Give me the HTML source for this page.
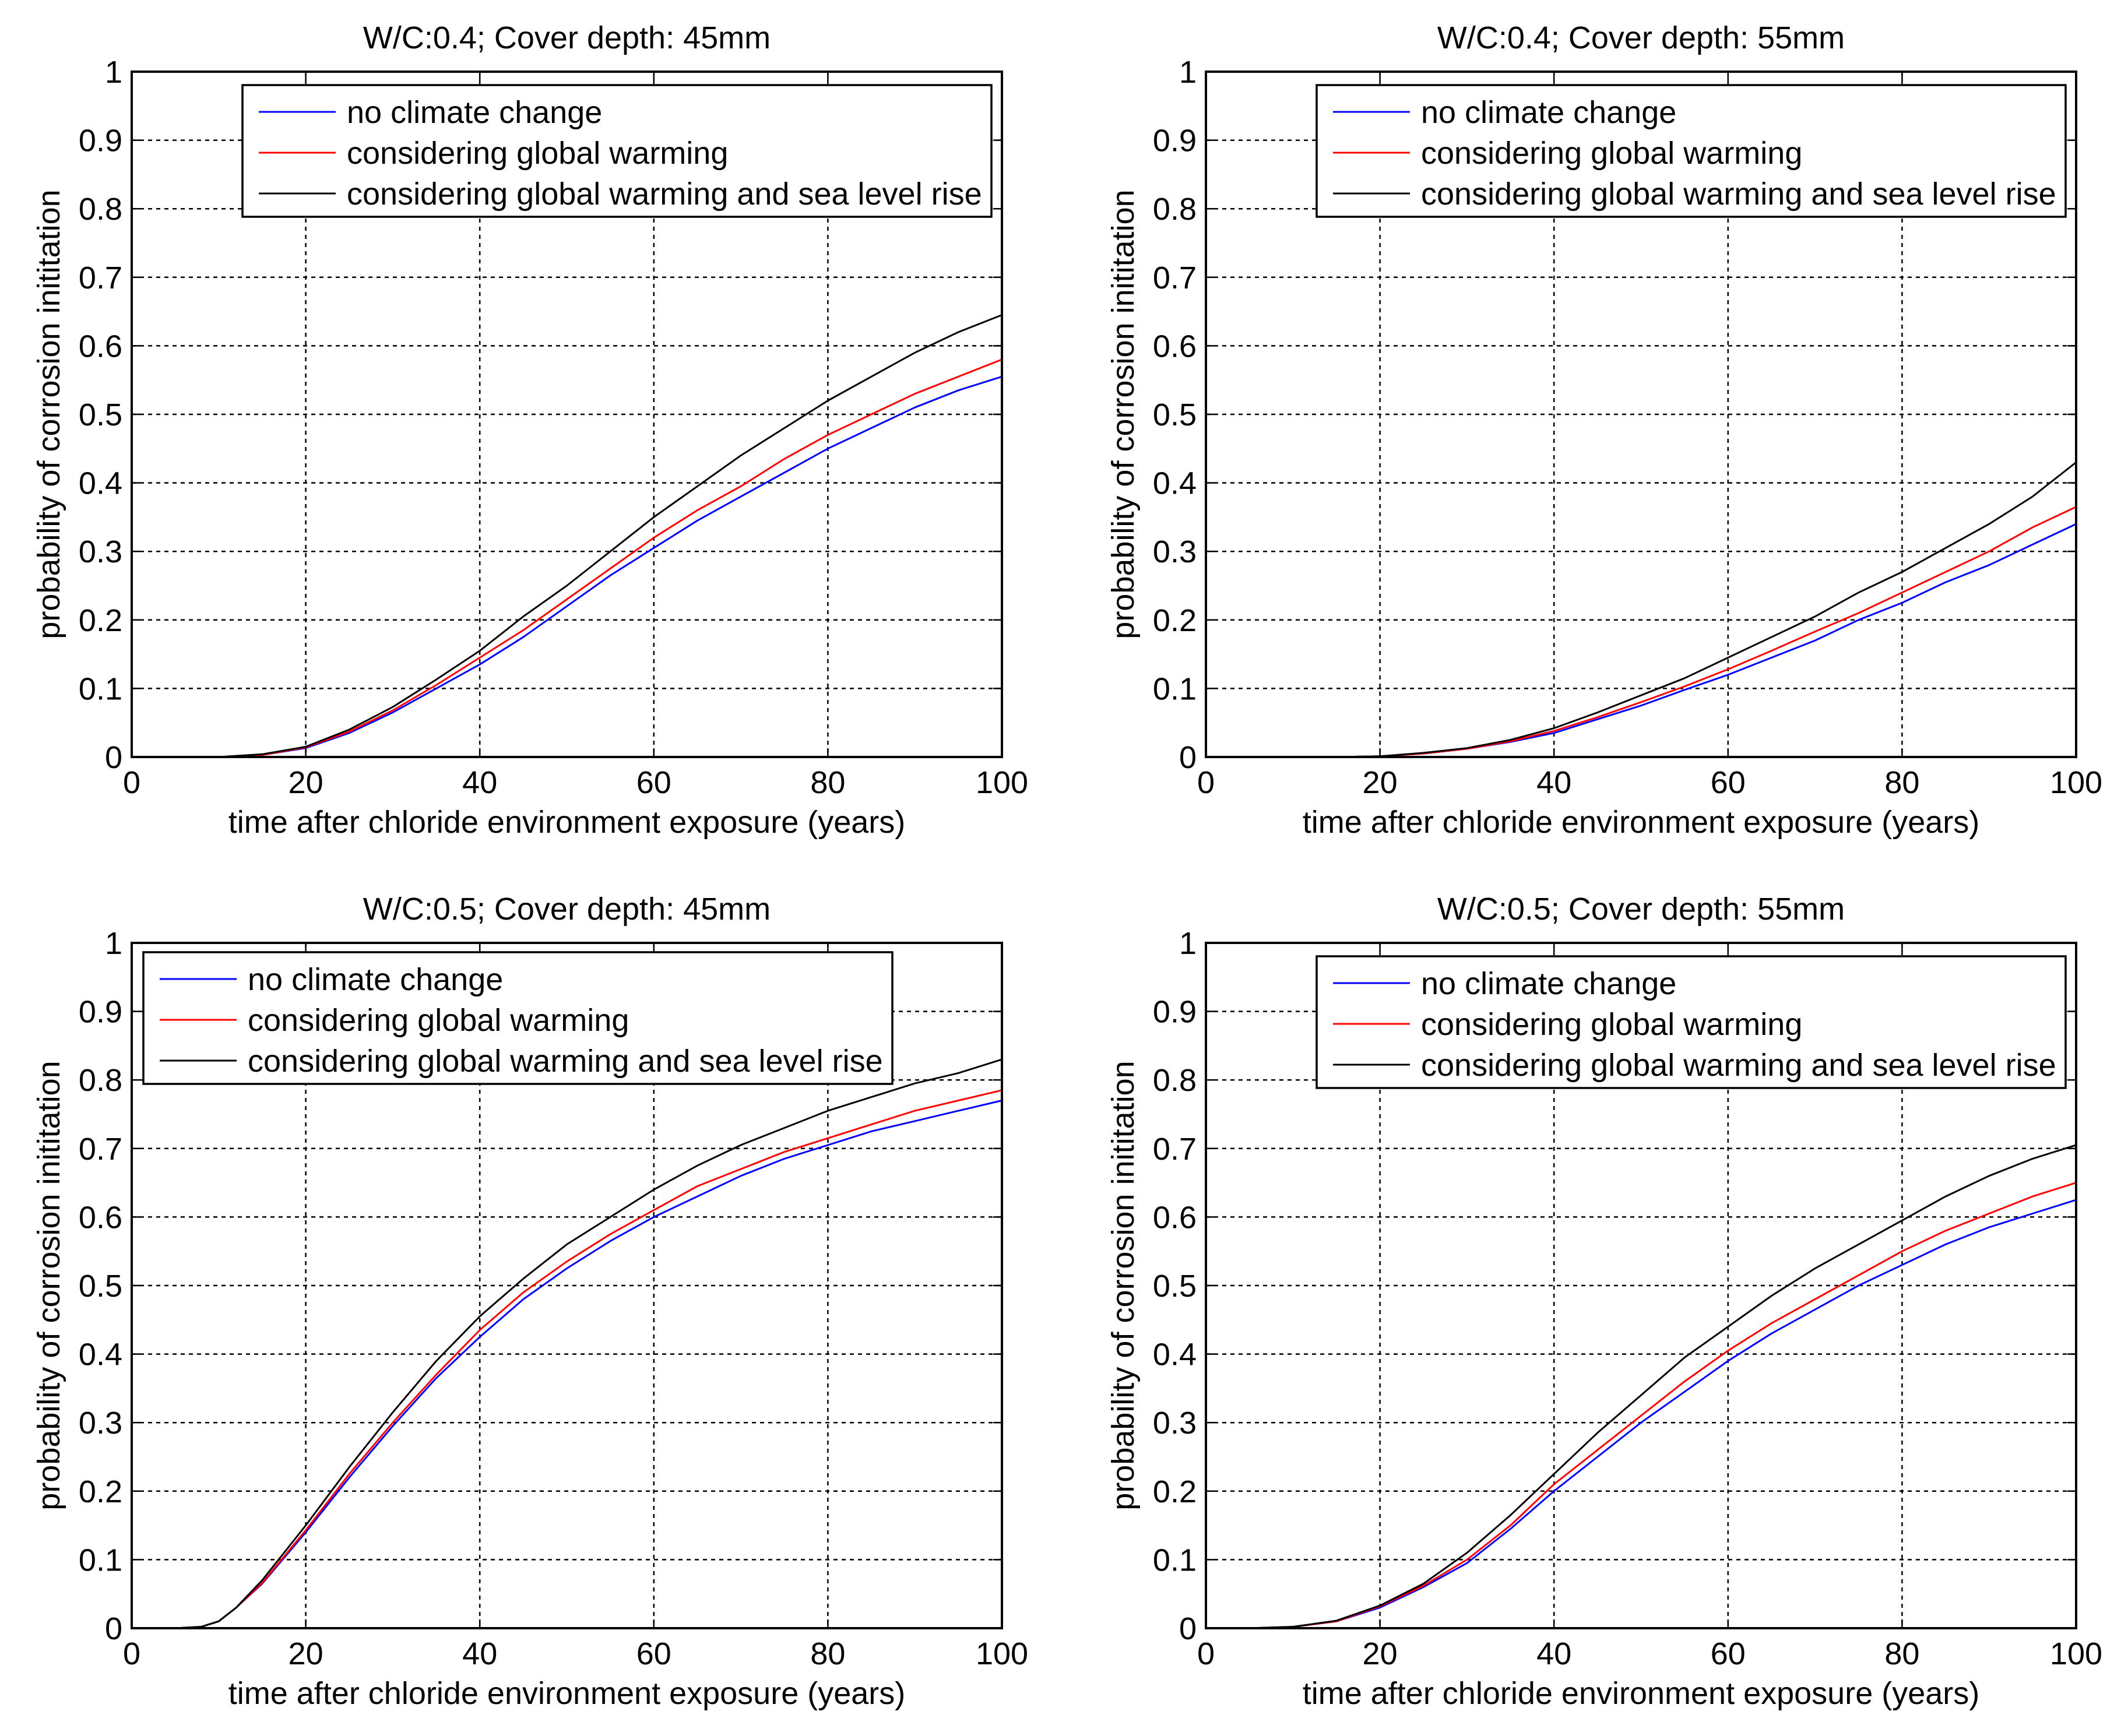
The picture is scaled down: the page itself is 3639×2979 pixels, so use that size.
<!DOCTYPE html>
<html><head><meta charset="utf-8"><style>
html,body{margin:0;padding:0;background:#fff;}
svg{display:block;font-family:"Liberation Sans",sans-serif;}
</style></head><body>
<svg id="chart" width="3639" height="2979" viewBox="0 0 3639 2979" xmlns="http://www.w3.org/2000/svg"></svg>
<script>
const xTicks = [0, 20, 40, 60, 80, 100];
const yTicks = [0, 0.1, 0.2, 0.3, 0.4, 0.5, 0.6, 0.7, 0.8, 0.9, 1];
const yTickLabels = ["0", "0.1", "0.2", "0.3", "0.4", "0.5", "0.6", "0.7", "0.8", "0.9", "1"];
const seriesNames = ["no climate change", "considering global warming", "considering global warming and sea level rise"];
const seriesColors = ["#0000ff", "#ff0000", "#000000"];
const panelTitles = ["W/C:0.4; Cover depth: 45mm", "W/C:0.4; Cover depth: 55mm", "W/C:0.5; Cover depth: 45mm", "W/C:0.5; Cover depth: 55mm"];

const yearsA = [7, 10, 15, 20, 25, 30, 35, 40, 45, 50, 55, 60, 65, 70, 75, 80, 85, 90, 95, 100];
const a_blue  = [0, 0, 0.003, 0.013, 0.035, 0.065, 0.10, 0.135, 0.175, 0.22, 0.265, 0.305, 0.345, 0.38, 0.415, 0.45, 0.48, 0.51, 0.535, 0.555];
const a_red   = [0, 0, 0.003, 0.014, 0.037, 0.068, 0.105, 0.145, 0.185, 0.23, 0.275, 0.32, 0.36, 0.395, 0.435, 0.47, 0.50, 0.53, 0.555, 0.58];
const a_black = [0, 0, 0.004, 0.015, 0.04, 0.073, 0.113, 0.155, 0.205, 0.25, 0.30, 0.35, 0.395, 0.44, 0.48, 0.52, 0.555, 0.59, 0.62, 0.645];

const yearsB = [10, 15, 20, 25, 30, 35, 40, 45, 50, 55, 60, 65, 70, 75, 80, 85, 90, 95, 100];
const b_blue  = [0, 0, 0.001, 0.005, 0.012, 0.022, 0.035, 0.055, 0.075, 0.098, 0.12, 0.145, 0.17, 0.2, 0.225, 0.255, 0.28, 0.31, 0.34];
const b_red   = [0, 0, 0.001, 0.005, 0.012, 0.023, 0.038, 0.058, 0.08, 0.103, 0.128, 0.155, 0.183, 0.21, 0.24, 0.27, 0.30, 0.335, 0.365];
const b_black = [0, 0, 0.001, 0.006, 0.013, 0.025, 0.042, 0.065, 0.09, 0.115, 0.145, 0.175, 0.205, 0.24, 0.27, 0.305, 0.34, 0.38, 0.43];

const yearsC = [3, 5, 8, 10, 12, 15, 20, 25, 30, 35, 40, 45, 50, 55, 60, 65, 70, 75, 80, 85, 90, 95, 100];
const c_blue  = [0, 0, 0.002, 0.01, 0.03, 0.065, 0.14, 0.22, 0.295, 0.365, 0.425, 0.48, 0.525, 0.565, 0.60, 0.63, 0.66, 0.685, 0.705, 0.725, 0.74, 0.755, 0.77];
const c_red   = [0, 0, 0.002, 0.01, 0.03, 0.066, 0.143, 0.225, 0.30, 0.37, 0.435, 0.49, 0.535, 0.575, 0.61, 0.645, 0.67, 0.695, 0.715, 0.735, 0.755, 0.77, 0.785];
const c_black = [0, 0, 0.002, 0.01, 0.03, 0.07, 0.15, 0.235, 0.315, 0.39, 0.455, 0.51, 0.56, 0.60, 0.64, 0.675, 0.705, 0.73, 0.755, 0.775, 0.795, 0.81, 0.83];

const yearsD = [5, 10, 15, 20, 25, 30, 35, 40, 45, 50, 55, 60, 65, 70, 75, 80, 85, 90, 95, 100];
const d_blue  = [0, 0.002, 0.01, 0.03, 0.06, 0.095, 0.145, 0.20, 0.25, 0.30, 0.345, 0.39, 0.43, 0.465, 0.50, 0.53, 0.56, 0.585, 0.605, 0.625];
const d_red   = [0, 0.002, 0.01, 0.032, 0.062, 0.10, 0.15, 0.21, 0.26, 0.31, 0.36, 0.405, 0.445, 0.48, 0.515, 0.55, 0.58, 0.605, 0.63, 0.65];
const d_black = [0, 0.002, 0.011, 0.033, 0.065, 0.11, 0.165, 0.225, 0.285, 0.34, 0.395, 0.44, 0.485, 0.525, 0.56, 0.595, 0.63, 0.66, 0.685, 0.705];

const panels = [
  {x0: 226, y0: 123, years: yearsA, data: [a_blue, a_red, a_black], legX: 190, legY: 23, key: "wc04-45mm"},
  {x0: 2069, y0: 123, years: yearsB, data: [b_blue, b_red, b_black], legX: 190, legY: 23, key: "wc04-55mm"},
  {x0: 226, y0: 1618, years: yearsC, data: [c_blue, c_red, c_black], legX: 20, legY: 16, key: "wc05-45mm"},
  {x0: 2069, y0: 1618, years: yearsD, data: [d_blue, d_red, d_black], legX: 190, legY: 23, key: "wc05-55mm"}
];
const W = 1493, H = 1176;
const FS = 54;
const NS = "http://www.w3.org/2000/svg";
const svg = document.getElementById("chart");
function mk(tag, attrs, parent) {
  const e = document.createElementNS(NS, tag);
  for (const k in attrs) e.setAttribute(k, attrs[k]);
  parent.appendChild(e);
  return e;
}
panels.forEach((p, pi) => {
  const sx = v => p.x0 + v / 100 * W;
  const sy = v => p.y0 + H - v * H;
  const g = mk("g", {}, svg);
  
  
  mk("rect", {x: p.x0, y: p.y0, width: W, height: H, fill: "#fff"}, g);
  xTicks.forEach((t, i) => {
    if (i === 0 || i === xTicks.length - 1) return;
    const l = mk("line", {x1: sx(t), x2: sx(t), y1: p.y0, y2: p.y0 + H, stroke: "#000", "stroke-width": 2.5, "stroke-dasharray": "7,7"}, g);
    
    
  });
  yTicks.forEach((t, i) => {
    if (i === 0 || i === yTicks.length - 1) return;
    const l = mk("line", {x1: p.x0, x2: p.x0 + W, y1: sy(t), y2: sy(t), stroke: "#000", "stroke-width": 2.5, "stroke-dasharray": "7,7"}, g);
    
    
  });
  p.data.forEach((vals, si) => {
    const pts = vals.map((v, i) => sx(p.years[i]).toFixed(1) + "," + sy(v).toFixed(1)).join(" ");
    const pl = mk("polyline", {points: pts, fill: "none", stroke: seriesColors[si], "stroke-width": 3, "stroke-linejoin": "round"}, g);
    
    
  });
  const fr = mk("rect", {x: p.x0, y: p.y0, width: W, height: H, fill: "none", stroke: "#000", "stroke-width": 4}, g);
  
  
  xTicks.forEach(t => {
    mk("line", {x1: sx(t), x2: sx(t), y1: p.y0 + H, y2: p.y0 + H - 15, stroke: "#000", "stroke-width": 2.5}, g);
    mk("line", {x1: sx(t), x2: sx(t), y1: p.y0, y2: p.y0 + 15, stroke: "#000", "stroke-width": 2.5}, g);
    const tx = mk("text", {x: sx(t), y: p.y0 + H + 62, "font-size": FS, "text-anchor": "middle", fill: "#000"}, g);
    tx.textContent = t;
    
    
  });
  yTicks.forEach((t, i) => {
    mk("line", {x1: p.x0, x2: p.x0 + 15, y1: sy(t), y2: sy(t), stroke: "#000", "stroke-width": 2.5}, g);
    mk("line", {x1: p.x0 + W, x2: p.x0 + W - 15, y1: sy(t), y2: sy(t), stroke: "#000", "stroke-width": 2.5}, g);
    const ty = mk("text", {x: p.x0 - 16, y: sy(t) + 19, "font-size": FS, "text-anchor": "end", fill: "#000"}, g);
    ty.textContent = yTickLabels[i];
    
    
  });
  const ti = mk("text", {x: p.x0 + W / 2, y: p.y0 - 40, "font-size": FS, "text-anchor": "middle", fill: "#000"}, g);
  ti.textContent = panelTitles[pi];
  
  
  const xl = mk("text", {x: p.x0 + W / 2, y: p.y0 + H + 130, "font-size": FS, "text-anchor": "middle", fill: "#000"}, g);
  xl.textContent = "time after chloride environment exposure (years)";
  
  
  const yl = mk("text", {x: 0, y: 0, "font-size": FS, "text-anchor": "middle", fill: "#000", transform: "translate(" + (p.x0 - 124) + "," + (p.y0 + H / 2) + ") rotate(-90)"}, g);
  yl.textContent = "probability of corrosion inititation";
  
  
  const lx = p.x0 + p.legX, ly = p.y0 + p.legY;
  const lg = mk("g", {}, g);
  
  
  mk("rect", {x: lx, y: ly, width: 1285, height: 226, fill: "#fff", stroke: "#000", "stroke-width": 3.5}, lg);
  seriesNames.forEach((n, si) => {
    const ry = ly + 46 + si * 70;
    const ll = mk("line", {x1: lx + 28, x2: lx + 160, y1: ry, y2: ry, stroke: seriesColors[si], "stroke-width": 3}, lg);
    
    
    const lt = mk("text", {x: lx + 179, y: ry + 19, "font-size": FS, fill: "#000"}, lg);
    lt.textContent = n;
    
    
  });
});
</script>
</body></html>
